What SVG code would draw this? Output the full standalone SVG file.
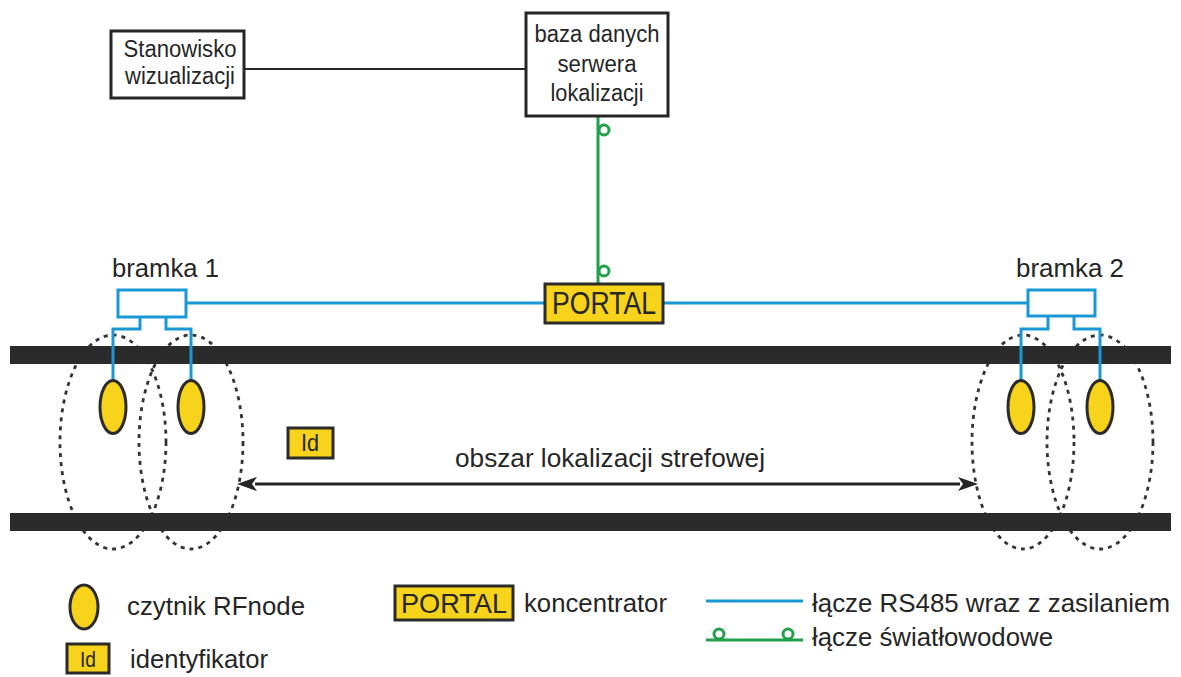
<svg xmlns="http://www.w3.org/2000/svg" width="1181" height="677" viewBox="0 0 1181 677">
<style>
text{font-family:"Liberation Sans Narrow","Liberation Sans",Arial,sans-serif;fill:#262626;font-stretch:condensed}
.box{fill:#fff;stroke:#262626;stroke-width:3}
.ybox{fill:#f7d31c;stroke:#2b2b2b;stroke-width:3}
.reader{fill:#f7d31c;stroke:#2b2b2b;stroke-width:3}
.zone{fill:none;stroke:#333;stroke-width:2.8;stroke-dasharray:4 5}
.bar{fill:#2b2b2b}
.blue{fill:none;stroke:#1a98d5;stroke-width:3}
.green{fill:none;stroke:#22a04b;stroke-width:3}
.gcirc{fill:#fff;stroke:#22a04b;stroke-width:3}
.blk{fill:none;stroke:#262626;stroke-width:2}
</style>
<defs>
<marker id="ah" viewBox="0 0 20 14" refX="2" refY="7" markerWidth="20" markerHeight="14" markerUnits="userSpaceOnUse" orient="auto-start-reverse">
<path d="M20,7 L0,0 L5,7 L0,14 z" fill="#262626"/>
</marker>
</defs>
<rect width="1181" height="677" fill="#fff"/>

<g id="zones">
<ellipse class="zone" cx="113" cy="442" rx="53" ry="107"/>
<ellipse class="zone" cx="191" cy="442" rx="52" ry="107"/>
<ellipse class="zone" cx="1023" cy="442" rx="51" ry="107"/>
<ellipse class="zone" cx="1100" cy="442" rx="53" ry="107"/>
</g>

<g id="rails">
<rect class="bar" x="10" y="346" width="1161" height="18"/>
<rect class="bar" x="10" y="513" width="1161" height="18"/>
</g>

<g id="connectors">
<line class="blk" x1="244" y1="69" x2="526" y2="69"/>
<line class="green" x1="598" y1="116" x2="598" y2="284"/>
<circle class="gcirc" cx="604" cy="130" r="5"/>
<circle class="gcirc" cx="604" cy="271" r="5"/>
<line class="blue" x1="186" y1="303" x2="545" y2="303"/>
<line class="blue" x1="663" y1="303" x2="1028" y2="303"/>
<path class="blue" d="M140,317 V329 H113 V382"/>
<path class="blue" d="M166,317 V329 H191 V382"/>
<path class="blue" d="M1048,316 V329 H1021 V382"/>
<path class="blue" d="M1074,316 V329 H1100 V382"/>
<line x1="255" y1="484" x2="960" y2="484" stroke="#262626" stroke-width="3" marker-start="url(#ah)" marker-end="url(#ah)"/>
</g>

<g id="stanowisko">
<rect class="box" x="111" y="31" width="133" height="67"/>
<text x="180" y="57" font-size="23" text-anchor="middle" textLength="113" lengthAdjust="spacingAndGlyphs">Stanowisko</text>
<text x="180" y="84" font-size="23" text-anchor="middle" textLength="110" lengthAdjust="spacingAndGlyphs">wizualizacji</text>
</g>

<g id="baza">
<rect class="box" x="526" y="13" width="142" height="103"/>
<text x="597" y="42" font-size="23" text-anchor="middle" textLength="125" lengthAdjust="spacingAndGlyphs">baza danych</text>
<text x="597" y="72" font-size="23" text-anchor="middle" textLength="79" lengthAdjust="spacingAndGlyphs">serwera</text>
<text x="597" y="101" font-size="23" text-anchor="middle" textLength="93" lengthAdjust="spacingAndGlyphs">lokalizacji</text>
</g>

<g id="portal">
<rect class="ybox" x="545" y="284" width="118" height="39"/>
<text x="604" y="314" font-size="31" text-anchor="middle" textLength="104" lengthAdjust="spacingAndGlyphs">PORTAL</text>
</g>

<g id="bramka1">
<rect class="blue" x="118" y="290" width="68" height="27" fill="#fff"/>
<text x="112" y="277" font-size="25" textLength="107" lengthAdjust="spacingAndGlyphs">bramka 1</text>
</g>

<g id="bramka2">
<rect class="blue" x="1028" y="290" width="67" height="26" fill="#fff"/>
<text x="1016" y="277" font-size="25" textLength="108" lengthAdjust="spacingAndGlyphs">bramka 2</text>
</g>

<g id="readers">
<ellipse class="reader" cx="113" cy="407" rx="13" ry="26.5"/>
<ellipse class="reader" cx="191" cy="407" rx="13" ry="26.5"/>
<ellipse class="reader" cx="1021" cy="407" rx="13" ry="26.5"/>
<ellipse class="reader" cx="1100" cy="407" rx="13" ry="26.5"/>
</g>

<g id="id-tag">
<rect class="ybox" x="288" y="428" width="45" height="30"/>
<text x="310" y="451" font-size="24" text-anchor="middle" textLength="18" lengthAdjust="spacingAndGlyphs">Id</text>
</g>

<g id="zone-label">
<text x="610" y="467" font-size="25" text-anchor="middle" textLength="310" lengthAdjust="spacingAndGlyphs">obszar lokalizacji strefowej</text>
</g>

<g id="legend">
<ellipse class="reader" cx="84" cy="607" rx="14" ry="22"/>
<text x="127" y="615" font-size="25" textLength="178" lengthAdjust="spacingAndGlyphs">czytnik RFnode</text>
<rect class="ybox" x="67" y="644" width="42" height="29"/>
<text x="88" y="667" font-size="22" text-anchor="middle" textLength="16" lengthAdjust="spacingAndGlyphs">Id</text>
<text x="130" y="668" font-size="25" textLength="138" lengthAdjust="spacingAndGlyphs">identyfikator</text>
<rect class="ybox" x="395" y="586" width="118" height="34"/>
<text x="454" y="613" font-size="28" text-anchor="middle" textLength="106" lengthAdjust="spacingAndGlyphs">PORTAL</text>
<text x="524" y="612" font-size="25" textLength="143" lengthAdjust="spacingAndGlyphs">koncentrator</text>
<line class="blue" x1="706" y1="601" x2="803" y2="601"/>
<text x="812" y="612" font-size="25" textLength="358" lengthAdjust="spacingAndGlyphs">łącze RS485 wraz z zasilaniem</text>
<line class="green" x1="706" y1="640" x2="803" y2="640"/>
<circle class="gcirc" cx="719" cy="634" r="5"/>
<circle class="gcirc" cx="788" cy="634" r="5"/>
<text x="812" y="646" font-size="25" textLength="241" lengthAdjust="spacingAndGlyphs">łącze światłowodowe</text>
</g>
</svg>
